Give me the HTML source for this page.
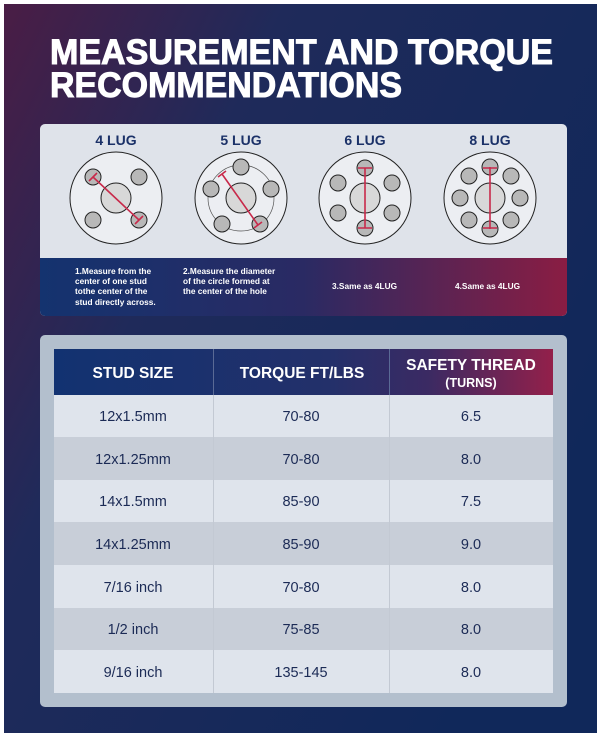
<!DOCTYPE html>
<html><head><meta charset="utf-8"><style>
html,body{margin:0;padding:0;background:#fff;}
svg{display:block;font-family:"Liberation Sans",sans-serif;}
</style></head><body>
<svg width="603" height="736" viewBox="0 0 603 736" xmlns="http://www.w3.org/2000/svg">
<defs>
<linearGradient id="bg" x1="0" y1="0" x2="1" y2="0.6">
<stop offset="0" stop-color="#4a1d45"/><stop offset="0.35" stop-color="#1f2a5a"/><stop offset="1" stop-color="#10285a"/>
</linearGradient>
<linearGradient id="band" x1="0" y1="0" x2="1" y2="0">
<stop offset="0" stop-color="#14336f"/><stop offset="0.5" stop-color="#2a2a63"/><stop offset="1" stop-color="#8a1d43"/>
</linearGradient>
<linearGradient id="hdr" x1="0" y1="0" x2="1" y2="0">
<stop offset="0" stop-color="#123271"/><stop offset="0.55" stop-color="#23306a"/><stop offset="0.75" stop-color="#3b2a63"/><stop offset="1" stop-color="#93204a"/>
</linearGradient>
</defs>
<rect x="4" y="4" width="593" height="729" fill="#10285a"/>
<rect x="4" y="4" width="593" height="729" fill="url(#bg)"/>
<g fill="#fff" stroke="#fff" stroke-width="1" font-weight="bold" font-size="35">
<text x="50" y="64" textLength="503" lengthAdjust="spacingAndGlyphs">MEASUREMENT AND TORQUE</text>
<text x="50" y="97" textLength="352" lengthAdjust="spacingAndGlyphs">RECOMMENDATIONS</text>
</g>
<rect x="40" y="124" width="527" height="192" rx="5" fill="#dfe3ea"/>
<path d="M40 258 H567 V311 a5 5 0 0 1 -5 5 H45 a5 5 0 0 1 -5 -5 Z" fill="url(#band)"/>
<g fill="#1b3168" font-weight="bold" font-size="14" text-anchor="middle">
<text x="116" y="145">4 LUG</text><text x="241" y="145">5 LUG</text><text x="365" y="145">6 LUG</text><text x="490" y="145">8 LUG</text>
</g>
<g stroke="#222" stroke-width="1" fill="#eceef2">
<circle cx="116" cy="198" r="46"/><circle cx="241" cy="198" r="46"/><circle cx="365" cy="198" r="46"/><circle cx="490" cy="198" r="46"/>
</g>
<circle cx="241" cy="198" r="33" fill="none" stroke="#555" stroke-width="0.7"/>
<g stroke="#222" stroke-width="1" fill="#d8d8d8">
<circle cx="116" cy="198" r="15"/><circle cx="241" cy="198" r="15"/><circle cx="365" cy="198" r="15"/><circle cx="490" cy="198" r="15"/>
</g>
<g stroke="#222" stroke-width="1" fill="#b8b8b8">
<circle cx="93" cy="177" r="8"/><circle cx="139" cy="177" r="8"/><circle cx="93" cy="220" r="8"/><circle cx="139" cy="220" r="8"/>
<circle cx="241" cy="167" r="8"/><circle cx="211" cy="189" r="8"/><circle cx="271" cy="189" r="8"/><circle cx="222" cy="224" r="8"/><circle cx="260" cy="224" r="8"/>
<circle cx="365" cy="168" r="8"/><circle cx="365" cy="228" r="8"/><circle cx="338" cy="183" r="8"/><circle cx="392" cy="183" r="8"/><circle cx="338" cy="213" r="8"/><circle cx="392" cy="213" r="8"/>
<circle cx="490" cy="167" r="8"/><circle cx="490" cy="229" r="8"/><circle cx="469" cy="176" r="8"/><circle cx="511" cy="176" r="8"/><circle cx="460" cy="198" r="8"/><circle cx="520" cy="198" r="8"/><circle cx="469" cy="220" r="8"/><circle cx="511" cy="220" r="8"/>
</g>
<g stroke="#c8294a" stroke-width="1.6" fill="none">
<path d="M93 177 L139 220 M89 181 L97 173 M135 224 L143 216"/>
<path d="M222 174 L258 225 M218 177 L226 171 M254 228 L262 222"/>
<path d="M365 168 V228 M358 168 H372 M358 228 H372"/>
<path d="M490 167 V229 M483 168 H497 M483 228 H497"/>
</g>
<g fill="#fff" font-size="8.3" font-weight="bold">
<text x="75" y="274">1.Measure from the</text><text x="75" y="284">center of one stud</text><text x="75" y="294">tothe center of the</text><text x="75" y="305">stud directly across.</text>
<text x="183" y="274">2.Measure the diameter</text><text x="183" y="284">of the circle formed at</text><text x="183" y="294">the center of the hole</text>
<text x="332" y="289">3.Same as 4LUG</text><text x="455" y="289">4.Same as 4LUG</text>
</g>
<rect x="40" y="335" width="527" height="372" rx="5" fill="#b3bfcd"/>
<rect x="54" y="349" width="499" height="46" fill="url(#hdr)"/>
<g fill="#dfe4ec"><rect x="54" y="395" width="499" height="42"/><rect x="54" y="480" width="499" height="42"/><rect x="54" y="565" width="499" height="43"/><rect x="54" y="650" width="499" height="43"/></g>
<g fill="#c8ced8"><rect x="54" y="437" width="499" height="43"/><rect x="54" y="522" width="499" height="43"/><rect x="54" y="608" width="499" height="42"/></g>
<g stroke="#c3c9d3" stroke-width="1"><line x1="213.5" y1="349" x2="213.5" y2="693"/><line x1="389.5" y1="349" x2="389.5" y2="693"/></g>
<g stroke="#5a6a95" stroke-width="1"><line x1="213.5" y1="349" x2="213.5" y2="395"/><line x1="389.5" y1="349" x2="389.5" y2="395"/></g>
<g fill="#fff" font-weight="bold" text-anchor="middle">
<text x="133" y="378" font-size="15.5">STUD SIZE</text>
<text x="302" y="378" font-size="15.5">TORQUE FT/LBS</text>
<text x="471" y="370" font-size="15.5">SAFETY THREAD</text>
<text x="471" y="387" font-size="12.5">(TURNS)</text>
</g>
<g fill="#1b2a55" font-size="14.5" text-anchor="middle">
<text x="133" y="421">12x1.5mm</text><text x="301" y="421">70-80</text><text x="471" y="421">6.5</text>
<text x="133" y="464">12x1.25mm</text><text x="301" y="464">70-80</text><text x="471" y="464">8.0</text>
<text x="133" y="506">14x1.5mm</text><text x="301" y="506">85-90</text><text x="471" y="506">7.5</text>
<text x="133" y="549">14x1.25mm</text><text x="301" y="549">85-90</text><text x="471" y="549">9.0</text>
<text x="133" y="592">7/16 inch</text><text x="301" y="592">70-80</text><text x="471" y="592">8.0</text>
<text x="133" y="634">1/2 inch</text><text x="301" y="634">75-85</text><text x="471" y="634">8.0</text>
<text x="133" y="677">9/16 inch</text><text x="301" y="677">135-145</text><text x="471" y="677">8.0</text>
</g>
</svg>
</body></html>
